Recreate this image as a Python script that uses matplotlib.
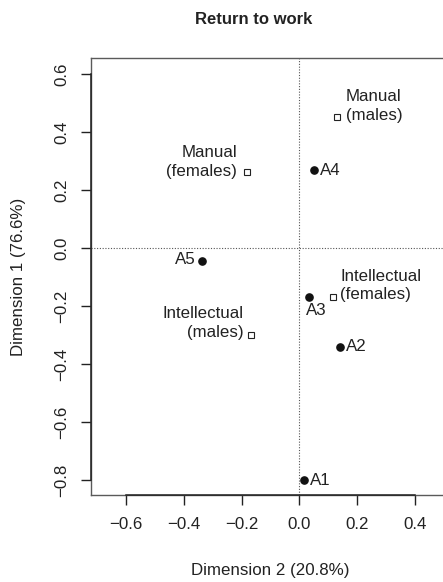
import matplotlib
matplotlib.use("Agg")
import matplotlib.pyplot as plt

plt.rcParams["font.family"] = ["Liberation Sans", "DejaVu Sans"]

# Active-status categories (filled dots)
status_labels = ["A1", "A2", "A3", "A4", "A5"]
status_dim2 = [0.016, 0.142, 0.035, 0.052, -0.338]
status_dim1 = [-0.801, -0.340, -0.169, 0.267, -0.046]

# Occupation / sex groups (open squares)
group_labels = ["Manual\n(females)", "Manual\n(males)",
                "Intellectual\n(females)", "Intellectual\n(males)"]
group_dim2 = [-0.181, 0.130, 0.115, -0.167]
group_dim1 = [0.263, 0.451, -0.168, -0.299]

x_ticks = [-0.6, -0.4, -0.2, 0.0, 0.2, 0.4]
y_ticks = [-0.8, -0.6, -0.4, -0.2, 0.0, 0.2, 0.4, 0.6]

W, H = 443, 582
fig = plt.figure(figsize=(W / 100, H / 100), dpi=100)

xlim = (-0.721, 0.55)
ylim = (-0.852, 0.655)
px_per_x = 289.0
px_per_y = 290.0
ax_left = 91 / W
ax_bottom = 1 - 495 / H
ax_w = (xlim[1] - xlim[0]) * px_per_x / W
ax_h = (ylim[1] - ylim[0]) * px_per_y / H
ax = fig.add_axes([ax_left, ax_bottom, ax_w, ax_h])
ax.set_xlim(*xlim)
ax.set_ylim(*ylim)

for s in ax.spines.values():
    s.set_color("#5a5a5a")
    s.set_linewidth(1.0)

# axis lines spanning the tick range
ax.plot([x_ticks[0], x_ticks[-1]], [ylim[0], ylim[0]], color="#222222",
        lw=1.1, clip_on=False, zorder=5)
ax.plot([xlim[0], xlim[0]], [y_ticks[0], y_ticks[-1]], color="#222222",
        lw=1.1, clip_on=False, zorder=5)

ax.axhline(0, color="#555555", lw=0.8, ls=(0, (1, 1.5)), zorder=1)
ax.axvline(0, color="#555555", lw=0.8, ls=(0, (1, 1.5)), zorder=1)

ax.set_xticks(x_ticks)
ax.set_xticklabels(["\u22120.6", "\u22120.4", "\u22120.2", "0.0", "0.2", "0.4"])
ax.set_yticks(y_ticks)
ax.set_yticklabels(["\u22120.8", "\u22120.6", "\u22120.4", "\u22120.2",
                    "0.0", "0.2", "0.4", "0.6"], rotation=90, va="center")
ax.tick_params(axis="both", direction="out", length=7.5, width=1.0,
               color="#222222", labelsize=12.2, labelcolor="#222222")
ax.tick_params(axis="x", pad=8)
ax.tick_params(axis="y", pad=8)

ax.plot(status_dim2, status_dim1, "o", ms=5.2, color="#111111", zorder=4)
ax.plot(group_dim2, group_dim1, "s", ms=4.2, mfc="white", mec="#222222",
        mew=0.8, zorder=4)

fs = 12.2
status_offsets = {
    "A1": ((4, 0), "left", "center"),
    "A2": ((4, 0), "left", "center"),
    "A3": ((5, -10), "center", "center"),
    "A4": ((4, 0), "left", "center"),
    "A5": ((-4, 1), "right", "center"),
}
for lab, x, y in zip(status_labels, status_dim2, status_dim1):
    off, ha, va = status_offsets[lab]
    ax.annotate(lab, (x, y), xytext=off, textcoords="offset points",
                ha=ha, va=va, fontsize=fs, color="#222222")

group_offsets = [((-7, 7.2), "right"), ((6.5, 8.0), "left"),
                 ((5.5, 8.0), "left"), ((-5.5, 8.2), "right")]
for lab, x, y, (off, ha) in zip(group_labels, group_dim2, group_dim1,
                                group_offsets):
    ax.annotate(lab, (x, y), xytext=off, textcoords="offset points",
                ha=ha, va="center", multialignment=ha, fontsize=fs,
                linespacing=1.32, color="#222222")

fig.text(254 / W, 1 - 19 / H, "Return to work", ha="center", va="center",
         fontsize=12, fontweight="bold", color="#222222")
fig.text(270 / W, 1 - 570 / H, "Dimension 2 (20.8%)", ha="center",
         va="center", fontsize=12.2, color="#222222")
fig.text(19 / W, 1 - 277 / H, "Dimension 1 (76.6%)", ha="center",
         va="center", rotation=90, fontsize=12.2, color="#222222")

fig.savefig("out.png", dpi=100)
